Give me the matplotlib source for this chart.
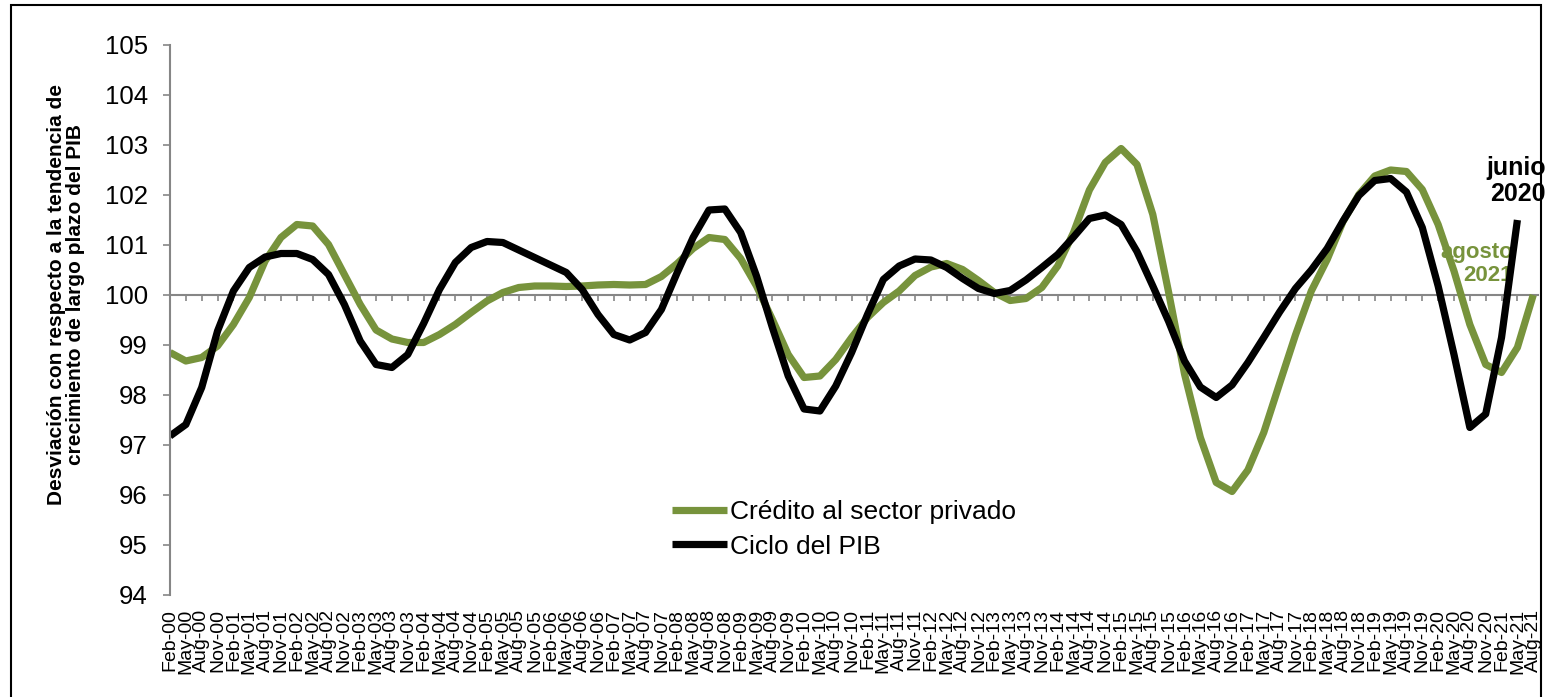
import matplotlib
matplotlib.use('Agg')
import matplotlib.pyplot as plt
from matplotlib.patches import Rectangle

plt.rcParams['font.family'] = ['Liberation Sans', 'DejaVu Sans']

# quarterly labels Feb-00 .. Aug-21
months = ['Feb', 'May', 'Aug', 'Nov']
labels = [f'{m}-{y:02d}' for y in range(0, 22) for m in months][:87]

# Crédito al sector privado (Feb-00 .. Aug-21)
credito = [98.85, 98.68, 98.75, 98.98, 99.41, 99.95, 100.68, 101.15, 101.41, 101.38,
           101.01, 100.41, 99.81, 99.30, 99.12, 99.05, 99.05, 99.21, 99.41, 99.65,
           99.88, 100.05, 100.15, 100.18, 100.18, 100.17, 100.18, 100.20, 100.21, 100.20,
           100.21, 100.37, 100.63, 100.93, 101.15, 101.11, 100.73, 100.18, 99.51, 98.81,
           98.35, 98.38, 98.71, 99.15, 99.55, 99.85, 100.08, 100.39, 100.56, 100.63,
           100.51, 100.29, 100.05, 99.89, 99.93, 100.15, 100.58, 101.25, 102.10, 102.65,
           102.93, 102.61, 101.61, 100.05, 98.42, 97.15, 96.25, 96.07, 96.50, 97.25,
           98.23, 99.20, 100.08, 100.71, 101.47, 102.01, 102.38, 102.50, 102.47, 102.11,
           101.41, 100.48, 99.41, 98.61, 98.45, 98.95, 100.00]

# Ciclo del PIB (Feb-00 .. May-21)
pib = [97.18, 97.41, 98.15, 99.28, 100.08, 100.55, 100.76, 100.83, 100.83, 100.71,
       100.41, 99.81, 99.08, 98.61, 98.55, 98.81, 99.43, 100.11, 100.65, 100.95,
       101.07, 101.05, 100.90, 100.75, 100.60, 100.45, 100.11, 99.61, 99.21, 99.10,
       99.25, 99.71, 100.45, 101.15, 101.70, 101.72, 101.25, 100.38, 99.35, 98.38,
       97.72, 97.68, 98.18, 98.85, 99.61, 100.31, 100.58, 100.72, 100.70, 100.55,
       100.33, 100.13, 100.03, 100.09, 100.30, 100.55, 100.81, 101.16, 101.53, 101.60,
       101.41, 100.87, 100.18, 99.47, 98.68, 98.16, 97.95, 98.20, 98.65, 99.15,
       99.66, 100.13, 100.50, 100.93, 101.48, 101.99, 102.29, 102.33, 102.06, 101.35,
       100.18, 98.81, 97.35, 97.62, 99.15, 101.50]

W, H = 1549, 697
green = '#77933C'
gray = '#868686'

fig = plt.figure(figsize=(W / 100, H / 100), dpi=100)
fig.patches.append(Rectangle((11 / W, -0.1), (1541 - 11) / W, 1.1 - 5 / H,
                             transform=fig.transFigure, fill=False,
                             edgecolor='black', linewidth=1.5))

ax = fig.add_axes([170 / W, 1 - 595 / H, (1538 - 170) / W, 550 / H])
ax.plot(range(len(credito)), credito, color=green, lw=5.2,
        solid_joinstyle='round', solid_capstyle='butt', label='Crédito al sector privado')
ax.plot(range(len(pib)), pib, color='black', lw=5.2,
        solid_joinstyle='round', solid_capstyle='butt', label='Ciclo del PIB')

ax.set_xlim(0, 86.3)
ax.set_ylim(94, 105)
ax.set_yticks(range(94, 106))
ax.tick_params(axis='y', direction='out', length=5, width=1.2, color=gray,
               labelsize=18.5, pad=11)
ax.set_xticks(range(len(labels)))
ax.set_xticklabels(labels, rotation=90, fontsize=14)
ax.tick_params(axis='x', length=0, pad=10)
for s in ['top', 'right', 'bottom']:
    ax.spines[s].set_visible(False)
ax.spines['left'].set_color(gray)
ax.spines['left'].set_linewidth(1.5)

# category axis crossing at 100
sec = ax.secondary_xaxis((100 - 94) / 11)
sec.set_xticks(range(len(labels)))
sec.tick_params(axis='x', direction='in', length=4.5, width=1.2, color=gray,
                labeltop=False, labelbottom=False)
for s in sec.spines.values():
    s.set_color(gray)
    s.set_linewidth(1.5)

fig.text(66 / W, 1 - 294 / H,
         'Desviación con respecto a la tendencia de\ncrecimiento de largo plazo del PIB',
         rotation=90, ha='center', va='center', fontsize=15, fontweight='bold',
         linespacing=1.05, multialignment='center')

ax.legend(loc='upper left', bbox_to_anchor=(672 / W, 1 - 500 / H),
          bbox_transform=fig.transFigure, frameon=False, fontsize=19,
          handlelength=2.1, handletextpad=0.1, labelspacing=0.4,
          borderpad=0, borderaxespad=0)

fig.text(1546 / W, 1 - 181 / H, 'junio\n2020', ha='right', va='center',
         fontsize=18, fontweight='bold', linespacing=1.1)
ax.text(1513 / W, 1 - 264 / H, 'agosto\n2021', ha='right', va='center',
        fontsize=16, fontweight='bold', color=green, linespacing=1.1,
        transform=fig.transFigure, zorder=1)

plt.savefig('out.png', dpi=100)
